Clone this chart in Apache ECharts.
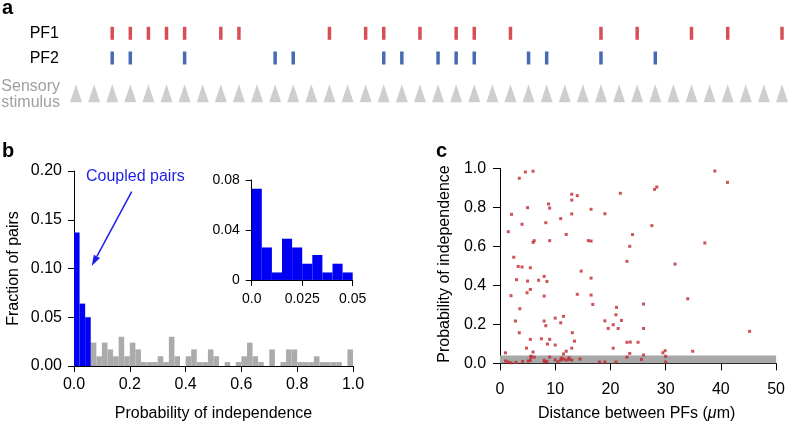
<!DOCTYPE html>
<html>
<head>
<meta charset="utf-8">
<script src="https://cdn.jsdelivr.net/npm/echarts@6/dist/echarts.min.js"></script>
<style>
html,body{margin:0;padding:0;background:#fff}
#chart{width:788px;height:425px}
</style>
</head>
<body>
<div id="chart"></div>
<script>
// a: spike trains, as stimulus index
const stimCount = 40;
const pf1Spikes = [2,3,4,5,6,8,9,14,16,17,19,21,22,24,29,31,34,36,39];
const pf2Spikes = [2,3,6,11,12,17,18,20,21,22,25,26,29,32];

// b: histogram, bins of 0.02 (first 3 bins = coupled pairs)
const binWidth = 0.02;
const coupledBins = 3;
const fractionOfPairs = [
  0.137,0.064,0.050,0.024,0.010,0.024,0.017,0.010,0.030,0.010,
  0.024,0.017,0.004,0.004,0.004,0.010,0.004,0.030,0.010,0,
  0.010,0.017,0.004,0.004,0.017,0.010,0,0.004,0,0.004,
  0.010,0.024,0.010,0.004,0,0.017,0,0.004,0.017,0.017,
  0.004,0.004,0.004,0.010,0.004,0.004,0.004,0.004,0,0.017
];
// b inset: bins of 0.005
const insetBinWidth = 0.005;
const insetFraction = [0.073,0.026,0.006,0.033,0.026,0.013,0.020,0.006,0.013,0.006];

// c: scatter
const distance = [
  3.5,4.6,6.0,13.0,14.0,13.0,21.8,8.8,9.0,5.0,2.1,16.5,13.0,19.0,4.0,8.3,11.0,1.5,12.0,24.0,
  6.0,6.2,9.0,16.0,16.5,23.5,2.5,23.0,
  38.9,41.2,28.4,28.0,27.5,37.1,31.7,
  3.3,4.0,5.5,14.7,3.0,5.0,7.0,8.0,8.5,16.5,5.5,4.9,2.0,8.0,14.0,16.5,16.8,3.6,21.1,21.0,
  10.0,11.5,2.8,8.0,11.0,19.0,22.0,8.3,20.5,19.6,21.4,3.5,13.1,5.5,7.5,9.0,13.5,23.0,23.6,25.0,
  8.6,10.0,4.8,13.0,20.5,1.0,6.0,12.0,11.5,23.5,5.6,5.6,6.2,9.0,11.1,12.5,23.0,
  1.0,1.5,2.0,2.9,4.1,5.1,5.5,8.0,8.1,8.5,10.0,10.5,11.0,11.5,12.0,12.5,13.0,14.5,18.0,19.0,21.0,
  34.0,26.0,26.0,45.2,29.9,29.5,34.9,26.0,25.6,30.0,30.0
];
const probIndep = [
  0.949,0.981,0.985,0.867,0.860,0.837,0.872,0.817,0.796,0.798,0.764,0.790,0.766,0.767,0.713,0.721,0.742,0.675,0.661,0.660,
  0.620,0.629,0.629,0.629,0.627,0.600,0.544,0.523,
  0.986,0.928,0.904,0.892,0.706,0.617,0.509,
  0.497,0.494,0.490,0.473,0.429,0.422,0.426,0.446,0.420,0.437,0.379,0.362,0.347,0.345,0.354,0.350,0.302,0.280,0.287,0.249,
  0.232,0.241,0.217,0.217,0.208,0.218,0.220,0.193,0.198,0.179,0.179,0.157,0.157,0.123,0.126,0.123,0.114,0.108,0.109,0.108,
  0.099,0.094,0.078,0.078,0.078,0.054,0.058,0.062,0.048,0.051,0.037,0.031,0.032,0.032,0.027,0.029,0.032,
  0.012,0.007,0.003,0.005,0.010,0.012,0.015,0.015,0.008,0.010,0.018,0.008,0.017,0.022,0.017,0.020,0.017,0.022,0.007,0.007,0.007,
  0.331,0.304,0.179,0.164,0.065,0.054,0.062,0.043,0.020,0.036,0.007
];
const bandTop = 0.04;

const FONT = 'Liberation Sans, Arial, Helvetica, sans-serif';
const RED = '#d0222a', BLUE = '#1a44a0', GRAY = '#c2c2c2';

var myChart = echarts.init(document.getElementById('chart'));

// build data for the library
const stimData = [];
for (let i = 0; i < stimCount; i++) stimData.push([i, 60]);
const pf1Data = pf1Spikes.map(s => [s, 0]);
const pf2Data = pf2Spikes.map(s => [s, 24.7]);

const coupledData = [], otherData = [];
fractionOfPairs.forEach((v, i) => {
  const row = [i * binWidth, (i + 1) * binWidth, v];
  (i < coupledBins ? coupledData : otherData).push(row);
});
const insetData = insetFraction.map((v, i) => [i * insetBinWidth, (i + 1) * insetBinWidth, v]);
const scatterData = distance.map((d, i) => [d, probIndep[i]]);

function histRender(params, api) {
  const p0 = api.coord([api.value(0), api.value(2)]);
  const p1 = api.coord([api.value(1), 0]);
  return {
    type: 'rect',
    shape: {x: p0[0], y: p0[1], width: p1[0] - p0[0], height: p1[1] - p0[1]},
    style: {fill: api.visual('color')}
  };
}

const axisBase = {
  axisLine: {show: true, lineStyle: {color: '#000', width: 1}},
  axisTick: {show: true, length: 6, lineStyle: {color: '#000'}},
  splitLine: {show: false},
  nameTextStyle: {color: '#000', fontSize: 16, fontFamily: FONT}
};
function lbl(extra) {
  return Object.assign({color: '#000', fontSize: 16, fontFamily: FONT}, extra);
}

// arrow for "Coupled pairs"
const arrowFrom = [131.7, 191.7], arrowTo = [91.7, 266];
const dx = arrowTo[0] - arrowFrom[0], dy = arrowTo[1] - arrowFrom[1];
const len = Math.sqrt(dx * dx + dy * dy), ux = dx / len, uy = dy / len;
const hb = [arrowTo[0] - 11 * ux, arrowTo[1] - 11 * uy];

const option = {
  animation: false,
  grid: [
    {left: 76, right: 6, top: 33.3, height: 60},
    {left: 74, right: 435, top: 171, bottom: 59},
    {left: 251.7, right: 435.3, top: 180, bottom: 142.3},
    {left: 497.2, right: 9.5, top: 168.3, bottom: 59.9}
  ],
  xAxis: [
    {gridIndex: 0, type: 'value', min: 0, max: stimCount - 1, show: false},
    Object.assign({}, axisBase, {
      gridIndex: 1, type: 'value', min: 0, max: 1, interval: 0.2,
      name: 'Probability of independence', nameLocation: 'middle', nameGap: 40,
      axisLabel: lbl({margin: 11, formatter: v => v.toFixed(1)})
    }),
    Object.assign({}, axisBase, {
      gridIndex: 2, type: 'value', min: 0, max: 0.05, interval: 0.025,
      axisLabel: lbl({fontSize: 14, margin: 9, formatter: v => v === 0 ? '0.0' : String(v)})
    }),
    Object.assign({}, axisBase, {
      gridIndex: 3, type: 'value', min: -0.5, max: 50,
      name: 'Distance between PFs ({i|μ}m)', nameLocation: 'middle', nameGap: 40,
      nameTextStyle: {color: '#000', fontSize: 16, fontFamily: FONT,
        rich: {i: {fontStyle: 'italic', fontSize: 16, fontFamily: FONT, color: '#000'}}},
      axisTick: {show: true, length: 7, lineStyle: {color: '#000'}, customValues: [0,10,20,30,40,50]},
      axisLabel: lbl({margin: 16, customValues: [0,10,20,30,40,50]})
    })
  ],
  yAxis: [
    {gridIndex: 0, type: 'value', min: 0, max: 60, inverse: true, show: false},
    Object.assign({}, axisBase, {
      gridIndex: 1, type: 'value', min: 0, max: 0.2, interval: 0.05,
      name: 'Fraction of pairs', nameLocation: 'middle', nameGap: 52,
      axisLabel: lbl({margin: 12, formatter: v => v.toFixed(2)})
    }),
    Object.assign({}, axisBase, {
      gridIndex: 2, type: 'value', min: -0.0022, max: 0.08,
      axisTick: {show: true, length: 6, lineStyle: {color: '#000'}, customValues: [0,0.04,0.08]},
      axisLabel: lbl({fontSize: 14, margin: 12, customValues: [0,0.04,0.08],
        formatter: v => v === 0 ? '0' : v.toFixed(2)})
    }),
    Object.assign({}, axisBase, {
      gridIndex: 3, type: 'value', min: -0.009, max: 1,
      axisTick: {show: true, length: 7, lineStyle: {color: '#000'}, customValues: [0,0.2,0.4,0.6,0.8,1]},
      axisLabel: lbl({margin: 11, customValues: [0,0.2,0.4,0.6,0.8,1], formatter: v => v.toFixed(1)})
    })
  ],
  series: [
    {type: 'scatter', xAxisIndex: 0, yAxisIndex: 0, data: stimData, clip: false,
     symbol: 'triangle', symbolSize: [12, 18], itemStyle: {color: GRAY}, silent: true},
    {type: 'scatter', xAxisIndex: 0, yAxisIndex: 0, data: pf1Data, clip: false,
     symbol: 'rect', symbolSize: [3.5, 13], itemStyle: {color: RED}, silent: true},
    {type: 'scatter', xAxisIndex: 0, yAxisIndex: 0, data: pf2Data, clip: false,
     symbol: 'rect', symbolSize: [3.5, 13], itemStyle: {color: BLUE}, silent: true},
    {type: 'custom', xAxisIndex: 1, yAxisIndex: 1, data: otherData, renderItem: histRender,
     encode: {x: [0, 1], y: 2}, itemStyle: {color: '#ababab'}, silent: true},
    {type: 'custom', xAxisIndex: 1, yAxisIndex: 1, data: coupledData, renderItem: histRender,
     encode: {x: [0, 1], y: 2}, itemStyle: {color: '#0000f5'}, silent: true},
    {type: 'custom', xAxisIndex: 2, yAxisIndex: 2, data: insetData, renderItem: histRender,
     encode: {x: [0, 1], y: 2}, itemStyle: {color: '#0000f5'}, silent: true},
    {type: 'scatter', xAxisIndex: 3, yAxisIndex: 3, data: [], z: 1, silent: true,
     markArea: {silent: true, itemStyle: {color: '#a8a8a8'},
       data: [[{coord: [0, 0]}, {coord: [50, bandTop]}]]}},
    {type: 'scatter', xAxisIndex: 3, yAxisIndex: 3, data: scatterData, z: 3, silent: true,
     symbol: 'rect', symbolSize: 3, itemStyle: {color: '#c0262c'}}
  ],
  graphic: [
    {type: 'text', left: 2, top: -2, style: {text: 'a', font: 'bold 20px ' + FONT, fill: '#000'}},
    {type: 'text', left: 2, top: 141, style: {text: 'b', font: 'bold 20px ' + FONT, fill: '#000'}},
    {type: 'text', left: 436, top: 141, style: {text: 'c', font: 'bold 20px ' + FONT, fill: '#000'}},
    {type: 'text', x: 59, y: 34, style: {text: 'PF1', font: '16px ' + FONT, fill: '#000', align: 'right', verticalAlign: 'middle'}},
    {type: 'text', x: 59, y: 59, style: {text: 'PF2', font: '16px ' + FONT, fill: '#000', align: 'right', verticalAlign: 'middle'}},
    {type: 'text', x: 60, y: 87, style: {text: 'Sensory', font: '16px ' + FONT, fill: '#a0a0a0', align: 'right', verticalAlign: 'middle'}},
    {type: 'text', x: 60, y: 103, style: {text: 'stimulus', font: '16px ' + FONT, fill: '#a0a0a0', align: 'right', verticalAlign: 'middle'}},
    {type: 'text', x: 86, y: 177, style: {text: 'Coupled pairs', font: '16px ' + FONT, fill: '#1e1ee6', verticalAlign: 'middle'}},
    {type: 'line', shape: {x1: arrowFrom[0], y1: arrowFrom[1], x2: hb[0], y2: hb[1]},
     style: {stroke: '#1e1ee6', lineWidth: 1.5}},
    {type: 'polygon', shape: {points: [arrowTo,
      [hb[0] + 3.5 * uy, hb[1] - 3.5 * ux], [hb[0] - 3.5 * uy, hb[1] + 3.5 * ux]]},
     style: {fill: '#1e1ee6'}},
    {type: 'text', x: 445, y: 264, rotation: Math.PI / 2,
     style: {text: 'Probability of independence', font: '16px ' + FONT, fill: '#000', align: 'center', verticalAlign: 'middle'}}
  ]
};
myChart.setOption(option);
</script>
</body>
</html>
